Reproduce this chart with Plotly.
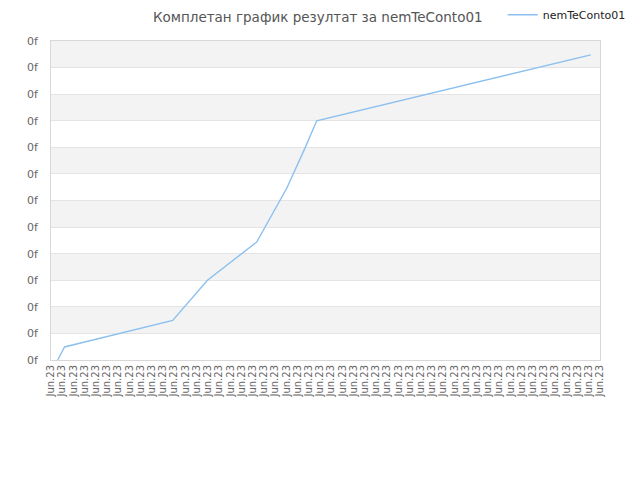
import plotly.graph_objects as go

# points (June 2023, irregular times)
times = ["2023-06-01 07:10", "2023-06-01 14:30", "2023-06-06 10:20",
         "2023-06-07 23:35", "2023-06-10 04:20", "2023-06-10 13:10",
         "2023-06-11 12:30", "2023-06-12 08:00", "2023-06-12 20:35",
         "2023-06-25 02:05"]
results = [0, 0.49, 1.49, 3.0, 4.44, 5.01, 6.46, 7.97, 9.0, 11.48]

series_name = "nemTeConto01"
title_text = "Комплетан график резултат за nemTeConto01"

# y ticks: the source prints every label as "0f"
y_ticks = list(range(13))
y_labels = ["0f"] * len(y_ticks)

x_start = "2023-06-01 00:00"
x_end = "2023-06-25 12:00"
half_day = 12 * 3600 * 1000

fig = go.Figure()
fig.add_trace(go.Scatter(
    x=times, y=results, mode="lines", name=series_name,
    line=dict(color="#8cc0ef", width=1.4),
))

# alternating grey bands
for lo in range(1, 12, 2):
    fig.add_shape(type="rect", xref="paper", x0=0, x1=1, yref="y",
                  y0=lo, y1=lo + 1, fillcolor="#f3f3f3",
                  line=dict(width=0), layer="below")

# page body adds ~8px offset, margins compensate for it
fig.update_layout(
    width=640, height=480,
    margin=dict(l=43, r=48, t=33, b=128, autoexpand=False),
    paper_bgcolor="white", plot_bgcolor="white",
    font=dict(family="DejaVu Sans", color="#666666"),
    title=dict(text=title_text, x=0.484, xanchor="center",
               y=0.981, yanchor="middle",
               font=dict(size=13.5, color="#555555")),
    showlegend=True,
    legend=dict(xref="container", yref="container",
                x=0.773, xanchor="left", y=0.986, yanchor="middle",
                font=dict(size=11, color="#222222"),
                itemwidth=30, bgcolor="rgba(0,0,0,0)"),
    xaxis=dict(type="date", range=[x_start, x_end], automargin=False,
               tick0=x_start, dtick=half_day, tickformat="%b.%y",
               tickangle=-90, tickfont=dict(size=10, color="#666666"),
               showgrid=False, showline=True, linecolor="#d8d8d8",
               mirror=True, ticks=""),
    yaxis=dict(range=[0, 12], tickmode="array", tickvals=y_ticks,
               ticktext=y_labels, tickfont=dict(size=11, color="#666666"),
               automargin=False, ticklabelstandoff=10,
               showgrid=True, gridcolor="#e4e4e4", zeroline=False,
               showline=True, linecolor="#d8d8d8", mirror=True, ticks=""),
)

fig.write_html("out.html")
